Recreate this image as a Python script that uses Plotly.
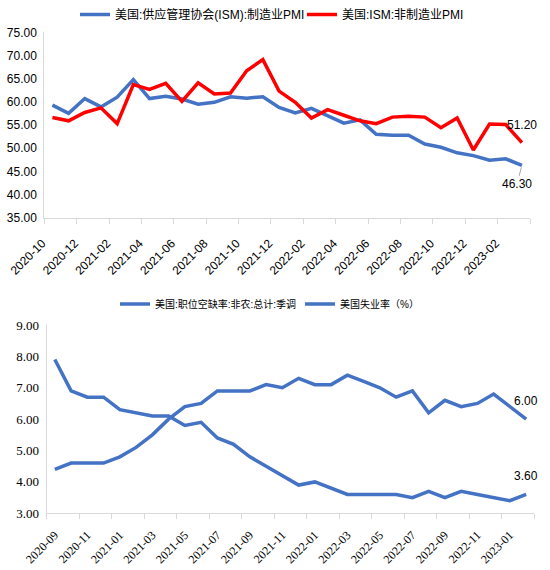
import plotly.graph_objects as go

# top chart: ISM PMI, monthly 2020-10 .. 2023-03
pmi_months = ["2020-10", "2020-11", "2020-12", "2021-01", "2021-02", "2021-03",
              "2021-04", "2021-05", "2021-06", "2021-07", "2021-08", "2021-09",
              "2021-10", "2021-11", "2021-12", "2022-01", "2022-02", "2022-03",
              "2022-04", "2022-05", "2022-06", "2022-07", "2022-08", "2022-09",
              "2022-10", "2022-11", "2022-12", "2023-01", "2023-02", "2023-03"]
ism_mfg = [59.3, 57.5, 60.7, 58.9, 61.0, 64.8, 60.7, 61.2, 60.6, 59.5, 59.9, 61.1,
           60.8, 61.1, 58.8, 57.6, 58.6, 57.1, 55.4, 56.1, 53.0, 52.8, 52.8, 50.9,
           50.2, 49.0, 48.4, 47.4, 47.7, 46.3]
ism_nonmfg = [56.6, 55.9, 57.7, 58.7, 55.3, 63.7, 62.7, 64.0, 60.1, 64.1, 61.7, 61.9,
              66.7, 69.1, 62.3, 59.9, 56.5, 58.3, 57.1, 55.9, 55.3, 56.7, 56.9, 56.7,
              54.4, 56.5, 49.6, 55.2, 55.1, 51.2]

# bottom chart: job openings rate vs unemployment, monthly 2020-09 .. 2023-02
job_months = ["2020-09", "2020-10", "2020-11", "2020-12", "2021-01", "2021-02",
              "2021-03", "2021-04", "2021-05", "2021-06", "2021-07", "2021-08",
              "2021-09", "2021-10", "2021-11", "2021-12", "2022-01", "2022-02",
              "2022-03", "2022-04", "2022-05", "2022-06", "2022-07", "2022-08",
              "2022-09", "2022-10", "2022-11", "2022-12", "2023-01", "2023-02"]
vacancy_rate = [4.4, 4.6, 4.6, 4.6, 4.8, 5.1, 5.5, 6.0, 6.4, 6.5, 6.9, 6.9,
                6.9, 7.1, 7.0, 7.3, 7.1, 7.1, 7.4, 7.2, 7.0, 6.7, 6.9, 6.2,
                6.6, 6.4, 6.5, 6.8, 6.4, 6.0]
unemployment = [7.9, 6.9, 6.7, 6.7, 6.3, 6.2, 6.1, 6.1, 5.8, 5.9, 5.4, 5.2,
                4.8, 4.5, 4.2, 3.9, 4.0, 3.8, 3.6, 3.6, 3.6, 3.6, 3.5, 3.7,
                3.5, 3.7, 3.6, 3.5, 3.4, 3.6]

BLUE = "#4472C4"
RED = "#FF0000"
SANS = "Liberation Sans, Arial, Noto Sans CJK SC"
SERIF = "Liberation Serif, Times New Roman, Noto Sans CJK SC"

x_top = list(range(len(pmi_months)))
x_bot = list(range(len(job_months)))

fig = go.Figure()
fig.add_trace(go.Scatter(x=x_top, y=ism_mfg, mode="lines", name="美国:供应管理协会(ISM):制造业PMI",
                         line=dict(color=BLUE, width=3.5), xaxis="x", yaxis="y", legend="legend"))
fig.add_trace(go.Scatter(x=x_top, y=ism_nonmfg, mode="lines", name="美国:ISM:非制造业PMI",
                         line=dict(color=RED, width=3.5), xaxis="x", yaxis="y", legend="legend"))
fig.add_trace(go.Scatter(x=x_bot, y=vacancy_rate, mode="lines", name="美国:职位空缺率:非农:总计:季调",
                         line=dict(color=BLUE, width=3.5), xaxis="x2", yaxis="y2", legend="legend2"))
fig.add_trace(go.Scatter(x=x_bot, y=unemployment, mode="lines", name="美国失业率（%）",
                         line=dict(color=BLUE, width=3.5), xaxis="x2", yaxis="y2", legend="legend2"))

# ticks sit on category boundaries every 2 months
top_tickvals = [i - 0.5 for i in range(0, len(pmi_months) + 1, 2)]
top_ticktext = [pmi_months[i] if i < len(pmi_months) else "" for i in range(0, len(pmi_months) + 1, 2)]
bot_tickvals = [i - 0.5 for i in range(0, len(job_months) + 1, 2)]
bot_ticktext = [job_months[i] if i < len(job_months) else "" for i in range(0, len(job_months) + 1, 2)]

axis_common = dict(showgrid=False, zeroline=False, showline=True, linecolor="#D9D9D9",
                   linewidth=1, automargin=False)

fig.update_layout(
    width=550, height=570,
    margin=dict(l=0, r=0, t=0, b=0),
    paper_bgcolor="white", plot_bgcolor="white",
    xaxis=dict(domain=[44.3 / 550, 530 / 550], anchor="y", range=[-0.5, len(pmi_months) - 0.5],
               tickmode="array", tickvals=top_tickvals, ticktext=top_ticktext,
               ticks="outside", ticklen=5, tickcolor="#D9D9D9", tickangle=-45,
               ticklabelstandoff=8, ticklabelshift=-2,
               tickfont=dict(family=SANS, size=12, color="black"), **axis_common),
    yaxis=dict(domain=[1 - 217.7 / 570, 1 - 32.3 / 570], anchor="x", range=[35, 75], dtick=5,
               tickformat=".2f", ticks="", ticklabelstandoff=4,
               tickfont=dict(family=SANS, size=12, color="black"), **axis_common),
    xaxis2=dict(domain=[46.7 / 550, 534.3 / 550], anchor="y2", range=[-0.5, len(job_months) - 0.5],
                tickmode="array", tickvals=bot_tickvals, ticktext=bot_ticktext,
                ticks="outside", ticklen=5, tickcolor="#D9D9D9", tickangle=-45,
                ticklabelstandoff=4, ticklabelshift=8,
                tickfont=dict(family=SERIF, size=12, color="black"), **axis_common),
    yaxis2=dict(domain=[1 - 513.3 / 570, 1 - 325 / 570], anchor="x2", range=[3, 9], dtick=1,
                tickformat=".2f", ticks="", ticklabelstandoff=4,
                tickfont=dict(family=SERIF, size=13, color="black"), **axis_common),
    # top legend kept fully inside the paper so it does not push the top margin
    legend=dict(orientation="h", x=75 / 550, y=1, xanchor="left", yanchor="top", entrywidth=182,
                font=dict(family=SANS, size=12, color="black"), bgcolor="rgba(0,0,0,0)"),
    legend2=dict(orientation="h", x=115 / 550, y=1 - 304 / 570, xanchor="left", yanchor="middle",
                 entrywidth=140, font=dict(family=SANS, size=10, color="black"),
                 bgcolor="rgba(0,0,0,0)"),
    showlegend=True,
)

# end-of-series value labels
fig.add_annotation(x=x_top[-1], y=ism_nonmfg[-1], xref="x", yref="y", text=f"{ism_nonmfg[-1]:.2f}",
                   showarrow=False, yshift=18, font=dict(family=SANS, size=12, color="black"))
fig.add_annotation(x=x_top[-1], y=ism_mfg[-1], xref="x", yref="y", text=f"{ism_mfg[-1]:.2f}",
                   showarrow=True, arrowhead=0, arrowwidth=1, arrowcolor="#A6A6A6",
                   ax=-5, ay=19, standoff=2, font=dict(family=SANS, size=12, color="black"))
fig.add_annotation(x=x_bot[-1], y=vacancy_rate[-1], xref="x2", yref="y2", text=f"{vacancy_rate[-1]:.2f}",
                   showarrow=False, yshift=18, font=dict(family=SANS, size=12, color="black"))
fig.add_annotation(x=x_bot[-1], y=unemployment[-1], xref="x2", yref="y2", text=f"{unemployment[-1]:.2f}",
                   showarrow=False, yshift=18, font=dict(family=SANS, size=12, color="black"))

# page body has a default 8px margin; drop it so the figure fills the window
fig.write_html("out.html", config={"displayModeBar": False},
               post_script="document.body.style.margin='0';")
